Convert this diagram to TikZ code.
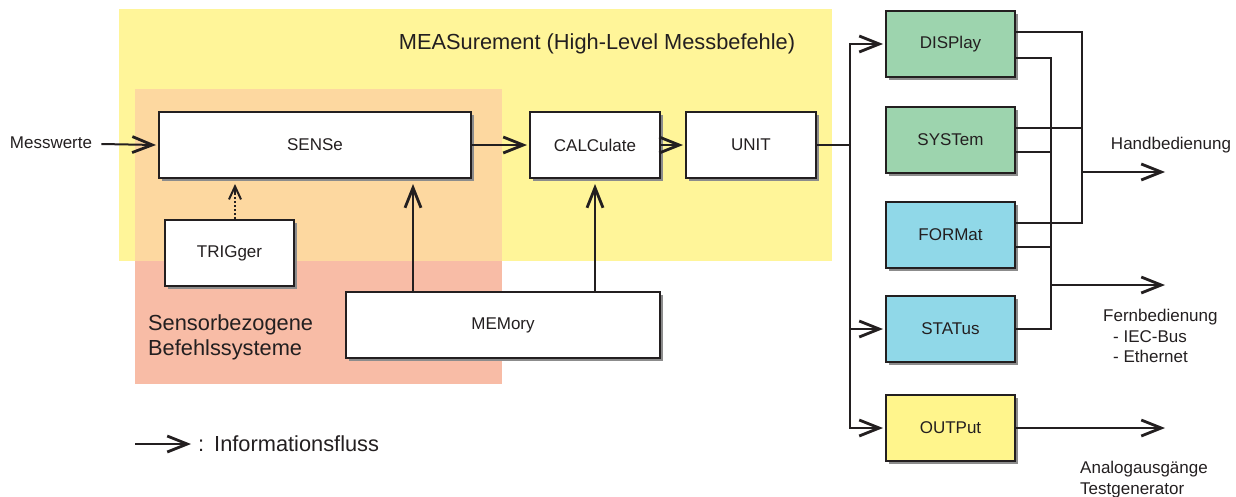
\documentclass[tikz,border=0pt]{standalone}
\usepackage{fontspec}
\setmainfont{Liberation Sans}
\usetikzlibrary{arrows.meta,shadows,calc}
\definecolor{measy}{RGB}{255,245,153}
\definecolor{overl}{RGB}{253,216,160}
\definecolor{salm}{RGB}{248,188,166}
\definecolor{grn}{RGB}{157,212,174}
\definecolor{blu}{RGB}{144,216,232}
\definecolor{yel}{RGB}{255,245,140}
\definecolor{shd}{RGB}{140,140,140}
\definecolor{ink}{RGB}{35,31,32}
\tikzset{
  box/.style={draw=ink, line width=2pt, fill=white, minimum height=66pt, inner sep=0pt,
    font=\fontsize{17}{20}\selectfont, text=ink,
    drop shadow={shadow xshift=3pt, shadow yshift=-3pt, fill=shd, opacity=1}},
  sbox/.style={box, minimum width=129pt},
  bigtip/.style={-{Straight Barb[length=20pt,width=16pt,line width=2.8pt]}},
  arr/.style={line width=2pt, draw=ink, bigtip},
  ln/.style={line width=2pt, draw=ink},
  lbl/.style={font=\fontsize{17}{20.5}\selectfont, inner sep=0pt, text=ink},
  big/.style={font=\fontsize{21.8}{25}\selectfont, inner sep=0pt, text=ink},
}
\begin{document}
\begin{tikzpicture}[x=1pt,y=-1pt]
\useasboundingbox (0,0) rectangle (1236,496);
% background regions
\fill[measy] (119,9) rectangle (832,261);
\fill[salm] (135,89) rectangle (502,384);
\fill[overl] (135,89) rectangle (502,261);
\node[big] (title) at (597,44) {MEASurement (High-Level Messbefehle)};
\node[big, anchor=north west, align=left] (sbs) at (148,314) {Sensorbezogene\\Befehlssysteme};
% boxes
\node[box, minimum width=312pt] (sense) at (315,145) {SENSe};
\node[sbox] (trig) at (229.5,253) {TRIGger};
\node[box, minimum width=314pt] (mem) at (503,325) {MEMory};
\node[sbox, minimum width=130pt] (calc) at (595,145) {CALCulate};
\node[sbox, minimum width=130pt] (unit) at (751,145) {UNIT};
\node[sbox, fill=grn] (disp) at (950.5,44) {DISPlay};
\node[sbox, fill=grn] (syst) at (950.5,140) {SYSTem};
\node[sbox, fill=blu] (form) at (950.5,235) {FORMat};
\node[sbox, fill=blu] (stat) at (950.5,329) {STATus};
\node[sbox, fill=yel] (outp) at (950.5,428) {OUTPut};
% left input
\node[lbl] (mess) at (51,143) {Messwerte};
\draw[arr] ($(mess.east)+(9,1)$) -- ([xshift=-2pt]sense.west);
% main chain
\draw[arr] (sense.east) -- ([xshift=-2pt]calc.west);
\draw[arr] (calc.east) -- ([xshift=-2pt]unit.west);
\draw[line width=2pt, draw=ink, dotted] ([xshift=5.5pt]trig.north) -- ([xshift=5.5pt,yshift=-10pt]trig.north |- sense.south);
\draw[line width=1.6pt, draw=ink, -{Straight Barb[length=13pt,width=12pt,line width=2pt]}] ([xshift=5.5pt,yshift=-14pt]trig.north |- sense.south) -- ([xshift=5.5pt,yshift=-5pt]trig.north |- sense.south);
\draw[arr] ([xshift=-90pt]mem.north) -- ([xshift=-90pt,yshift=-5pt]mem.north |- sense.south);
\draw[arr] (mem.north -| calc.south) -- ([yshift=-5pt]calc.south);
% distribution
\coordinate (sp) at (850,145);
\draw[ln] (unit.east) -- (sp);
\draw[arr] (sp) |- ([xshift=-2pt]disp.west);
\draw[arr] (sp) |- ([xshift=-2pt]stat.west);
\draw[arr] (sp) |- ([xshift=-2pt]outp.west);
% outputs bus
\coordinate (hb) at (1165,172);
\coordinate (fb) at (1165,285);
\coordinate (bA) at (1082,172);
\coordinate (bB) at (1051,285);
\draw[ln] ([yshift=12pt]disp.east) -| (bA);
\draw[ln] ([yshift=12pt]syst.east) -- ([yshift=12pt]syst.east -| bA);
\draw[ln] ([yshift=12pt]form.east) -| (bA);
\draw[ln] ([yshift=-14pt]disp.east) -| (bB);
\draw[ln] ([yshift=-12pt]syst.east) -- ([yshift=-12pt]syst.east -| bB);
\draw[ln] ([yshift=-12pt]form.east) -- ([yshift=-12pt]form.east -| bB);
\draw[ln] (stat.east) -| (bB);
\draw[arr] (bA) -- (hb);
\draw[arr] (bB) -- (fb);
\coordinate (ag) at (1165,428);
\draw[arr] (outp.east) -- (ag);
% labels right
\node[lbl] (hbl) at (1171,145) {Handbedienung};
\node[lbl, anchor=north west, align=left] (fbl) at (1103,309) {Fernbedienung\\\hspace*{10pt}- IEC-Bus\\\hspace*{10pt}- Ethernet};
\node[lbl, anchor=north west, align=left] (agl) at (1080,461) {Analogausgänge\\Testgenerator};
% legend
\coordinate (l1) at (135,444);
\coordinate (l2) at (191,444);
\draw[arr] (l1) -- (l2);
\node[big, anchor=west] (leg) at (198,444) {:\hspace{10pt}Informationsfluss};
\end{tikzpicture}
\end{document}
